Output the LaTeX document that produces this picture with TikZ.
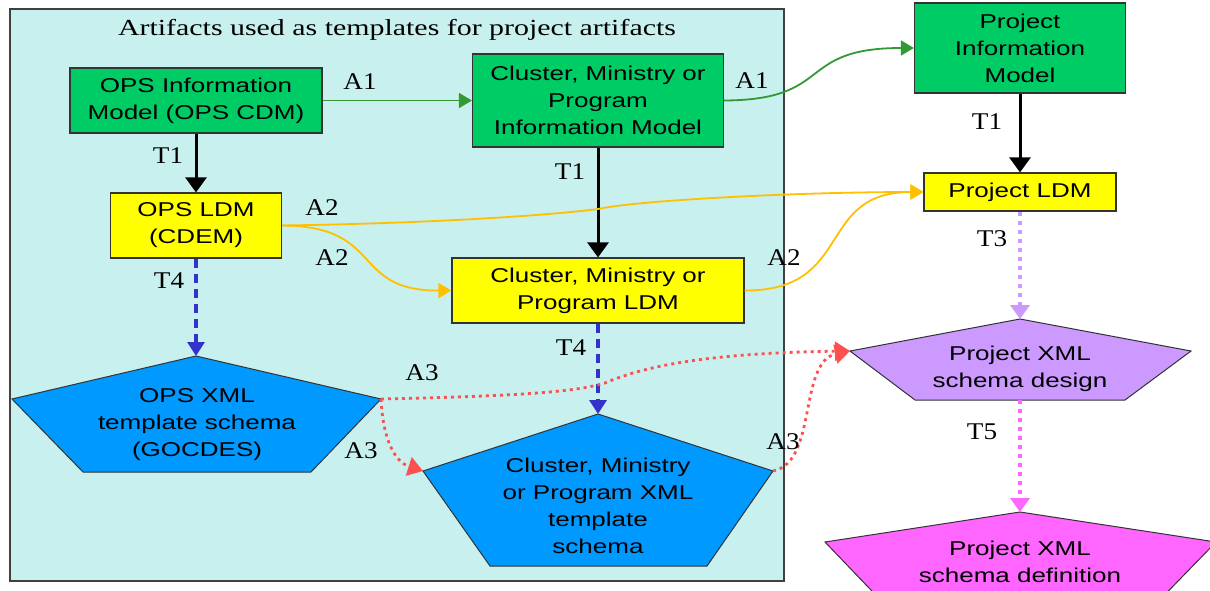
\documentclass[tikz,border=0pt]{standalone}
\usepackage{fontspec}
\usetikzlibrary{arrows.meta}

% Wide-set faces used throughout the chart
\newfontfamily\boxface{Liberation Sans}[FakeStretch=1.3]
\newfontfamily\titleface{Liberation Serif}[FakeStretch=1.3]
\newfontfamily\labelface{Liberation Serif}[FakeStretch=1.13]

\definecolor{panelfill}{HTML}{C8F0EE}
\definecolor{panelline}{HTML}{404040}
\definecolor{boxline}{HTML}{333333}
\definecolor{modelgreen}{HTML}{00CC66}
\definecolor{ldmyellow}{HTML}{FFFF00}
\definecolor{xmlblue}{HTML}{0099FF}
\definecolor{designlilac}{HTML}{CC99FF}
\definecolor{defmagenta}{HTML}{FF66FF}
\definecolor{aonegreen}{HTML}{339933}
\definecolor{atwoyellow}{HTML}{FFC000}
\definecolor{tfourblue}{HTML}{3333CC}
\definecolor{athreered}{HTML}{FF5050}

\tikzset{
  artbox/.style={draw=boxline, line width=1.2pt, align=center, inner sep=0pt,
    font=\boxface\fontsize{20}{27}\selectfont},
  modelbox/.style={artbox, fill=modelgreen},
  ldmbox/.style={artbox, fill=ldmyellow},
  pentagon/.style={draw=boxline, line width=1pt},
  pentext/.style={align=center, inner sep=0pt, font=\boxface\fontsize{20}{27}\selectfont},
  lbl/.style={inner sep=0pt, font=\labelface\fontsize{24}{24}\selectfont},
  tone/.style={line width=3pt, -{Triangle[length=15pt,width=21pt]}},
  aone/.style={aonegreen, line width=1.8pt, -{Triangle[length=13pt,width=15pt]}},
  atwo/.style={atwoyellow, line width=1.8pt, -{Triangle[length=13pt,width=15pt]}},
  tfour/.style={tfourblue, line width=3.2pt, dash pattern=on 9pt off 6pt,
    -{Triangle[length=14pt,width=17pt]}},
  athree/.style={athreered, line width=2.8pt, dash pattern=on 3pt off 4pt,
    -{Triangle[length=15pt,width=19pt]}},
  tthree/.style={designlilac, line width=4pt, dash pattern=on 4pt off 5pt,
    -{Triangle[length=14pt,width=19pt]}},
  tfive/.style={defmagenta, line width=4pt, dash pattern=on 4pt off 5pt,
    -{Triangle[length=14pt,width=19pt]}},
}

\begin{document}
\begin{tikzpicture}[x=1pt, y=-1pt]
\useasboundingbox (0,0) rectangle (1210,590);
\clip (0,0) rectangle (1210,590);
\fill[white] (0,0) rectangle (1210,590);

% panel of template artifacts
\filldraw[fill=panelfill, draw=panelline, line width=1.5pt] (10,9) rectangle (784,581);
\node[font=\titleface\fontsize{23}{23}\selectfont, inner sep=0pt] (title) at (397,30)
  {Artifacts used as templates for project artifacts};

% rectangular artifacts
\node[modelbox, minimum width=252pt, minimum height=65pt] (opsim) at (196,100.5)
  {OPS Information\\Model (OPS CDM)};
\node[ldmbox, minimum width=171pt, minimum height=65pt] (opsldm) at (196,225.5)
  {OPS LDM\\(CDEM)};
\node[modelbox, minimum width=251pt, minimum height=93pt] (clim) at (598,100.5)
  {Cluster, Ministry or\\Program\\Information Model};
\node[ldmbox, minimum width=292pt, minimum height=65pt] (clldm) at (598,290.5)
  {Cluster, Ministry or\\Program LDM};
\node[modelbox, minimum width=211pt, minimum height=90pt] (pim) at (1020,48)
  {Project\\Information\\Model};
\node[ldmbox, minimum width=192pt, minimum height=38pt] (pldm) at (1020,192)
  {Project LDM};

% pentagon artifacts: corner points
\coordinate (ox-t) at (196,356);  \coordinate (ox-r) at (381,399);
\coordinate (ox-br) at (311,472); \coordinate (ox-bl) at (83,472);
\coordinate (ox-l) at (12,399);
\coordinate (cx-t) at (598,414);  \coordinate (cx-r) at (773,471);
\coordinate (cx-br) at (707,566); \coordinate (cx-bl) at (490,566);
\coordinate (cx-l) at (423,471);
\coordinate (pd-t) at (1020,319); \coordinate (pd-r) at (1191,351);
\coordinate (pd-br) at (1125,400);\coordinate (pd-bl) at (915,400);
\coordinate (pd-l) at (850,351);
\coordinate (pf-t) at (1020,512); \coordinate (pf-r) at (1216,542);
\coordinate (pf-br) at (1148,612);\coordinate (pf-bl) at (892,612);
\coordinate (pf-l) at (825,542);

\filldraw[pentagon, fill=xmlblue] (ox-t) -- (ox-r) -- (ox-br) -- (ox-bl) -- (ox-l) -- cycle;
\filldraw[pentagon, fill=xmlblue] (cx-t) -- (cx-r) -- (cx-br) -- (cx-bl) -- (cx-l) -- cycle;
\filldraw[pentagon, fill=designlilac] (pd-t) -- (pd-r) -- (pd-br) -- (pd-bl) -- (pd-l) -- cycle;
\filldraw[pentagon, fill=defmagenta] (pf-t) -- (pf-r) -- (pf-br) -- (pf-bl) -- (pf-l) -- cycle;

\node[pentext] (opsxml) at (197,425) {OPS XML\\template schema\\(GOCDES)};
\node[pentext] (clxml) at (598,506) {Cluster, Ministry\\or Program XML\\template\\schema};
\node[pentext] (pdesign) at (1020,369) {Project XML\\schema design};
\node[pentext] (pdef) at (1020,562) {Project XML\\schema definition};

% A1: information models adopted
\draw[aone] (opsim.east) -- (clim.west);
\draw[aone] (clim.east) .. controls (835,100) and (795,48) .. (pim.west);

% T1: information model to LDM
\draw[tone] (opsim.south) -- (opsldm.north);
\draw[tone] (clim.south) -- (clldm.north);
\draw[tone] (pim.south) -- (pldm.north);

% A2: LDMs adopted
\draw[atwo] (opsldm.east) .. controls (450,223) and (560,214) .. (598,209)
  .. controls (640,200) and (800,192) .. (pldm.west);
\draw[atwo] (opsldm.east) .. controls (385,226) and (350,291) .. (clldm.west);
\draw[atwo] (clldm.east) .. controls (855,291) and (815,192) .. (pldm.west);

% T4 and T3/T5: schema derivations
\draw[tfour] (opsldm.south) -- (ox-t);
\draw[tfour] (clldm.south) -- (cx-t);
\draw[tthree] (pldm.south) -- (pd-t);
\draw[tfive] (pd-bl -| pd-t) -- (pf-t);

% A3: XML schemas adopted
\draw[athree] (ox-r) .. controls (520,396) and (575,392) .. (605,383)
  .. controls (640,368) and (700,353) .. (pd-l);
\draw[athree] (ox-r) .. controls (383,440) and (395,462) .. (cx-l);
\draw[athree] (cx-r) .. controls (818,462) and (798,362) .. (pd-l);

% connector labels
\node[lbl] (la1) at (360,82) {A1};
\node[lbl] (la1b) at (752,81) {A1};
\node[lbl] (lt1) at (168,156) {T1};
\node[lbl] (lt1b) at (570,172) {T1};
\node[lbl] (lt1c) at (987,122) {T1};
\node[lbl] (la2) at (322,208) {A2};
\node[lbl] (la2b) at (332,258) {A2};
\node[lbl] (la2c) at (784,258) {A2};
\node[lbl] (lt4) at (169,281) {T4};
\node[lbl] (lt4b) at (571,348) {T4};
\node[lbl] (lt3) at (992,239) {T3};
\node[lbl] (lt5) at (982,432) {T5};
\node[lbl] (la3) at (422,373) {A3};
\node[lbl] (la3b) at (361,451) {A3};
\node[lbl] (la3c) at (783,442) {A3};
\end{tikzpicture}
\end{document}
